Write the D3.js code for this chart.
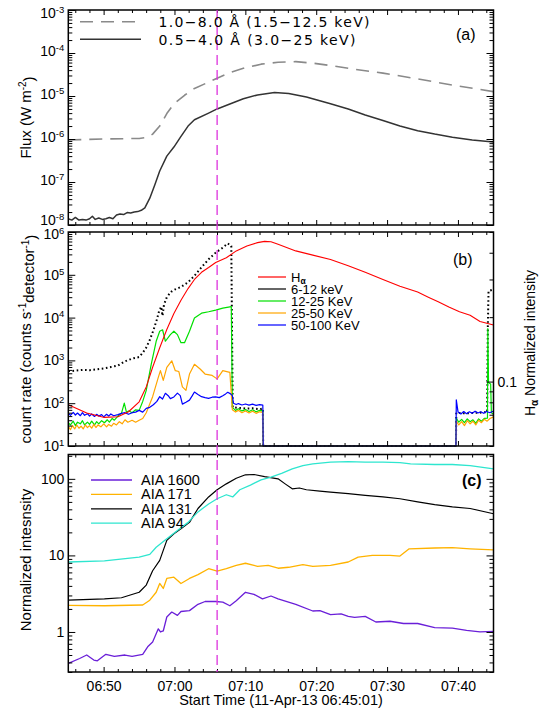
<!DOCTYPE html>
<html>
<head>
<meta charset="utf-8">
<script src="https://cdn.jsdelivr.net/npm/d3@7"></script>
<style>
body { margin: 0; background: #fff; }
text { font-family: "Liberation Sans", Arial, sans-serif; fill: #000; }
.tick line { stroke: #000; }
</style>
</head>
<body>
<div id="chart"></div>
<script>
let width = 546;
let height = 709;

// all series: [minutes after 06:45:01, value]
let goesLong = [[0,9.5e-7],[5.1,1.0e-6],[10,1.03e-6],[11.2,1.1e-6],[11.9,1.3e-6],[12.9,2.0e-6],[13.9,3.9e-6],[14.9,6.6e-6],[16.4,1.04e-5],[17.8,1.5e-5],[19.8,2.1e-5],[21,2.6e-5],[22.8,3.5e-5],[24.7,4.4e-5],[27.2,5.5e-5],[29.6,6.1e-5],[32.1,6.3e-5],[34.5,5.8e-5],[37,5.1e-5],[39.5,4.4e-5],[44.4,3.4e-5],[49.3,2.5e-5],[54.2,1.8e-5],[60,1.26e-5]];
let goesShort = [[0,1.4e-8],[0.5,1.3e-8],[1,1.5e-8],[1.5,1.3e-8],[2,1.35e-8],[2.5,1.3e-8],[3,1.4e-8],[3.4,1.6e-8],[3.8,1.35e-8],[4.3,1.45e-8],[4.8,1.35e-8],[5.3,1.4e-8],[5.8,1.5e-8],[6.3,1.4e-8],[6.8,1.7e-8],[7.3,1.8e-8],[7.8,1.75e-8],[8.3,1.95e-8],[8.8,1.9e-8],[9.3,2.0e-8],[9.8,2.05e-8],[10.3,2.2e-8],[10.8,2.5e-8],[11.5,4.2e-8],[12.2,8.5e-8],[12.9,1.8e-7],[13.9,4.0e-7],[14.9,6.5e-7],[15.9,1.15e-6],[16.9,2.0e-6],[17.8,2.8e-6],[19.8,4.0e-6],[21,5.0e-6],[22.8,6.5e-6],[24.7,8.6e-6],[26.7,1.06e-5],[29.1,1.2e-5],[31.1,1.15e-5],[33.6,9.5e-6],[37,6.6e-6],[39.5,5.0e-6],[41.9,3.6e-6],[44.4,2.7e-6],[46.8,2.0e-6],[49.3,1.56e-6],[51.7,1.3e-6],[54.2,1.1e-6],[57,9.5e-7],[60,8.5e-7]];

let hxr612 = [[0,560],[1,575],[2,600],[3,590],[4,620],[5,650],[6,700],[7,760],[8,950],[9,1100],[10,1200],[10.5,1500],[11,2000],[11.5,3000],[12,5000],[12.5,9000],[12.8,14000],[13.1,18000],[13.3,11000],[13.5,20000],[13.9,30000],[14.5,40000],[15,45000],[15.9,52000],[16.9,67000],[17.8,95000],[18.8,150000],[19.8,230000],[20.8,330000],[21.8,430000],[22.5,540000],[23,470000],[23.2,80],[24,78],[25,75],[26,76],[27,72],[27.45,75],[27.5,10],[54.7,10],[54.75,60],[56,58],[58,60],[59.1,62],[59.2,6000],[59.3,42000],[60,45000]];
let hxr1225 = [[0,35],[0.3,31],[0.7,38],[1,30],[1.3,36],[1.7,33],[2,39],[2.3,31],[2.7,36],[3,32],[3.3,38],[3.7,31],[4,37],[4.3,33],[4.7,39],[5.1,35],[5.5,41],[5.8,36],[6.2,44],[6.5,40],[7,50],[7.5,58],[7.9,100],[8.2,62],[8.6,66],[9,60],[9.5,70],[10,68],[10.5,110],[11,200],[11.7,810],[12.4,2800],[12.9,4800],[13.3,5200],[13.7,2800],[14.4,4000],[14.9,4800],[15.4,4000],[15.9,2600],[16.4,2600],[17.1,4800],[17.8,9800],[18.8,12700],[19.8,13700],[20.8,15000],[21.8,16600],[23,18000],[23.15,80],[23.6,68],[24,74],[24.5,66],[25,71],[25.5,64],[26,70],[26.5,63],[27,68],[27.45,66],[27.5,10],[54.7,10],[54.75,45],[55.1,36],[55.5,42],[55.9,35],[56.3,43],[56.7,37],[57.1,41],[57.5,34],[57.9,43],[58.3,38],[58.7,44],[59.15,45],[59.2,5500],[59.3,300],[59.6,280],[59.7,60],[60,55]];
let hxr2550 = [[0,29],[0.3,24],[0.6,30],[0.9,25],[1.2,31],[1.5,26],[1.8,29],[2.1,25],[2.4,31],[2.7,27],[3,30],[3.3,26],[3.6,32],[3.9,27],[4.2,31],[4.6,28],[5,33],[5.4,28],[5.7,32],[6.1,29],[6.4,34],[6.8,31],[7.2,37],[7.6,33],[8,41],[8.4,36],[9,40],[9.5,36],[10,40],[10.5,44],[11,60],[11.9,142],[12.7,400],[13,575],[13.4,340],[13.9,690],[14.6,980],[15.1,575],[15.6,550],[16.1,240],[16.6,200],[17.1,480],[17.8,810],[18.6,630],[19.3,480],[20.3,445],[21,370],[21.8,575],[22.8,525],[23.15,70],[23.6,62],[24,68],[24.5,60],[25,66],[25.5,59],[26,65],[26.5,58],[27,63],[27.45,61],[27.5,10],[54.7,10],[54.75,38],[55.1,31],[55.5,37],[55.9,30],[56.3,39],[56.7,33],[57.1,38],[57.5,31],[57.9,40],[58.3,35],[58.7,42],[59.1,38],[59.5,44],[60,48]];
let hxr50100 = [[0,58],[0.3,52],[0.7,61],[1,53],[1.3,59],[1.7,51],[2,60],[2.3,52],[2.7,57],[3,50],[3.3,56],[3.7,49],[4,55],[4.3,50],[4.7,54],[5,48],[5.4,55],[5.7,50],[6,56],[6.4,51],[7,54],[7.5,58],[8,60],[8.5,55],[9,60],[9.5,62],[10,68],[10.5,62],[11,76],[11.5,80],[12,92],[12.5,110],[12.9,142],[13.3,125],[13.7,170],[14.1,150],[14.4,128],[14.9,140],[15.4,172],[15.8,150],[16.1,95],[16.6,105],[17.1,118],[17.5,150],[17.8,182],[18.3,160],[18.8,142],[19.3,135],[19.8,130],[20.3,138],[20.8,140],[21.3,135],[21.8,150],[22.2,165],[22.5,180],[22.9,165],[23.15,150],[23.3,100],[23.7,93],[24,98],[24.5,91],[25,96],[25.5,90],[26,95],[26.5,89],[27,93],[27.45,90],[27.5,10],[54.7,10],[54.75,120],[55,62],[55.4,56],[55.8,64],[56.2,57],[56.6,63],[57,58],[57.4,65],[57.8,59],[58.2,63],[58.6,58],[59,64],[59.5,60],[60,66]];

// H-alpha, right-hand axis
let halpha = [[0,0.078],[2.6,0.0713],[5.1,0.068],[7,0.0685],[8.5,0.0723],[10,0.0804],[11,0.0944],[11.9,0.1167],[12.9,0.144],[13.9,0.175],[14.9,0.208],[15.9,0.24],[16.9,0.272],[17.8,0.3],[18.8,0.324],[19.8,0.341],[20.8,0.36],[22.3,0.379],[23.7,0.408],[25.2,0.43],[26.7,0.446],[27.7,0.452],[28.6,0.45],[29.6,0.438],[32.1,0.408],[34.5,0.39],[37,0.372],[39.5,0.348],[41.9,0.324],[44.4,0.3],[46.8,0.279],[49.3,0.262],[50.8,0.248],[52.2,0.236],[53.7,0.223],[55.2,0.212],[56.7,0.204],[58.1,0.191],[60,0.184]];

let aia1600 = [[0,0.39],[1.6,0.45],[2.6,0.5],[3.6,0.43],[4.1,0.42],[5.3,0.51],[6.5,0.48],[8,0.5],[9,0.48],[10.5,0.51],[11.2,0.64],[11.9,0.74],[12.7,1.1],[13,1.0],[13.4,1.03],[13.9,1.57],[14.6,1.82],[15.4,1.65],[15.9,1.85],[17.1,1.9],[18.3,2.3],[19.3,2.5],[20.8,2.5],[21.8,2.45],[22.8,2.2],[23.7,2.55],[25,3.3],[26.2,3.1],[27.4,2.7],[28.6,2.95],[29.6,2.7],[32.1,2.3],[34.5,1.88],[35.5,1.9],[37,1.68],[38.5,1.72],[39.5,1.6],[40.4,1.55],[41.9,1.6],[43.4,1.35],[45.4,1.38],[47.3,1.29],[49.3,1.29],[51.7,1.14],[54.2,1.12],[56.2,1.05],[58.1,1.0],[60,1.02]];
let aia171 = [[0,2.23],[5.1,2.2],[10.5,2.25],[11.5,2.6],[12.4,3.3],[12.9,4.3],[13.4,3.7],[13.9,5.0],[14.9,5.2],[15.9,4.3],[17.1,5.0],[18.3,5.6],[19.8,6.7],[21,6.25],[22.3,6.7],[23.7,7.4],[25,7.9],[26.7,7.2],[28.2,7.4],[29.6,6.8],[31.1,7.0],[33.1,7.6],[34.5,7.2],[37,7.4],[39.5,8.2],[40.9,9.5],[42.9,10.0],[45.4,10.0],[46.8,9.8],[48.1,12.2],[51.7,12.5],[54.2,12.6],[56.7,12.2],[60,11.8]];
let aia131 = [[0,2.6],[5.1,2.7],[7.5,2.8],[10,3.3],[11,4.1],[11.9,6.3],[12.9,8.6],[13.9,15.7],[14.9,19.2],[15.9,22.3],[17.1,27],[18.3,41],[19.8,58],[21,72],[22.3,86],[23.7,102],[25,113],[26.2,114],[27.7,107],[29.6,100],[30.6,86],[31.6,74],[32.6,76],[33.6,72],[35.5,69],[37,67],[39.5,64],[41.9,61],[44.4,58],[46.8,55],[49.3,50],[51.7,46],[54.2,43],[56.7,41],[60,35]];
let aia94 = [[0,8.2],[5.1,8.5],[10,9.5],[11.5,10.3],[12.4,12.8],[13.9,16.5],[15.4,21.2],[16.9,27],[18.3,37],[19.8,47],[21,55],[22.3,62],[23.2,58],[24.2,72],[25.7,83],[27.2,97],[28.6,105],[30.1,118],[31.6,135],[33.1,149],[34.5,157],[37,165],[39.5,168],[41.9,165],[44.4,165],[46.8,163],[48.3,157],[51.7,154],[54.2,154],[56.7,149],[60,135]];

let goesLabels = ["1.0\u22128.0 \u00c5 (1.5\u221212.5 keV)", "0.5\u22124.0 \u00c5 (3.0\u221225 keV)"];
let hxrLabels = ["6-12 keV", "12-25 KeV", "25-50 KeV", "50-100 KeV"];
let aiaLabels = ["AIA 1600", "AIA 171", "AIA 131", "AIA 94"];
let markerMinute = 21.0;

let svg = d3.select("#chart").append("svg")
    .attr("width", width)
    .attr("height", height);

let left = 68.3, right = 493.5;
let startTime = Date.UTC(2013, 3, 11, 6, 45, 1);
let toDate = m => new Date(startTime + m * 60000);

let x = d3.scaleUtc().domain([toDate(0), toDate(60)]).range([left, right]);
let yA = d3.scaleLog().domain([1e-8, 1e-3]).range([225, 10]);
let yB = d3.scaleLog().domain([10, 1e6]).range([446, 232]);
let yHa = d3.scaleLog().domain([0.05, 0.5]).range([446, 232]);
let yC = d3.scaleLog().domain([0.3, 208]).range([672, 454.5]);

let isPow10 = v => Math.abs(Math.log10(v) - Math.round(Math.log10(v))) < 1e-9;
let noDomain = g => g.select(".domain").remove();

function timeTicks(y, labels) {
    let [bottom, top] = y.range();
    let major = x.ticks(d3.utcMinute.every(10));
    let minor = x.ticks(d3.utcMinute.every(2)).filter(d => d.getUTCMinutes() % 10 !== 0);
    svg.append("g").attr("transform", `translate(0,${bottom})`)
        .call(d3.axisBottom(x).tickValues(minor).tickSize(-3).tickFormat("")).call(noDomain);
    svg.append("g").attr("transform", `translate(0,${bottom})`)
        .call(d3.axisBottom(x).tickValues(major).tickSize(-5).tickPadding(9)
            .tickFormat(labels ? d3.utcFormat("%H:%M") : ""))
        .call(noDomain)
        .selectAll("text").attr("font-size", "14px");
    svg.append("g").attr("transform", `translate(0,${top})`)
        .call(d3.axisTop(x).tickValues(minor).tickSize(-3).tickFormat("")).call(noDomain);
    svg.append("g").attr("transform", `translate(0,${top})`)
        .call(d3.axisTop(x).tickValues(major).tickSize(-5).tickFormat("")).call(noDomain);
}

// nudge: pixel shift of the labels at the top and bottom of a panel
function logTicks(y, fmt, mirror, nudge) {
    let all = y.ticks();
    let major = all.filter(isPow10);
    let minor = all.filter(d => !isPow10(d));
    let [lo, hi] = y.domain();
    svg.append("g").attr("transform", `translate(${left},0)`)
        .call(d3.axisLeft(y).tickValues(minor).tickSize(-4).tickFormat("")).call(noDomain);
    let g = svg.append("g").attr("transform", `translate(${left},0)`)
        .call(d3.axisLeft(y).tickValues(major).tickSize(-7).tickPadding(4).tickFormat(fmt.base))
        .call(noDomain);
    g.selectAll("text")
        .attr("font-size", "14px")
        .attr("y", d => d === hi ? nudge[0] : d === lo ? nudge[2] : nudge[1]);
    if (fmt.sup) {
        g.selectAll("text").append("tspan")
            .attr("dy", "-0.55em")
            .attr("font-size", "9.5px")
            .text(d => Math.round(Math.log10(d)));
    }
    if (mirror) {
        svg.append("g").attr("transform", `translate(${right},0)`)
            .call(d3.axisRight(y).tickValues(minor).tickSize(-4).tickFormat("")).call(noDomain);
        svg.append("g").attr("transform", `translate(${right},0)`)
            .call(d3.axisRight(y).tickValues(major).tickSize(-7).tickFormat("")).call(noDomain);
    }
}

function clipFor(id, y) {
    let [bottom, top] = y.range();
    svg.append("clipPath").attr("id", id).append("rect")
        .attr("x", left).attr("y", top - 1)
        .attr("width", right - left).attr("height", bottom - top + 2);
}

function drawSeries(data, y, clip, color, widthPx, dash) {
    let line = d3.line()
        .x(d => x(toDate(d[0])))
        .y(d => y(d[1]));
    svg.append("path")
        .datum(data)
        .attr("clip-path", `url(#${clip})`)
        .attr("d", line)
        .attr("fill", "none")
        .attr("stroke", color)
        .attr("stroke-width", widthPx)
        .attr("stroke-dasharray", dash || null)
        .attr("stroke-linejoin", "round");
}

clipFor("clipA", yA);
clipFor("clipB", yB);
clipFor("clipC", yC);

// panel (a)
drawSeries(goesLong, yA, "clipA", "#8a8a8a", 1.6, "13,8");
drawSeries(goesShort, yA, "clipA", "#333", 1.5);

// panel (b)
drawSeries(hxr612, yB, "clipB", "#000", 2, "1.6,2.6");
drawSeries(hxr1225, yB, "clipB", "#00e000", 1.2);
drawSeries(hxr2550, yB, "clipB", "#ffa500", 1.2);
drawSeries(hxr50100, yB, "clipB", "#0000ff", 1.2);
drawSeries(halpha, yHa, "clipB", "#ff0000", 1.1);

// panel (c)
drawSeries(aia1600, yC, "clipC", "#6a1fd8", 1.3);
drawSeries(aia171, yC, "clipC", "#ffb300", 1.3);
drawSeries(aia131, yC, "clipC", "#000", 1.2);
drawSeries(aia94, yC, "clipC", "#2ee6cf", 1.3);

// frames and ticks
[yA, yB, yC].forEach((y, i) => {
    let [bottom, top] = y.range();
    svg.append("rect")
        .attr("x", left).attr("y", top)
        .attr("width", right - left).attr("height", bottom - top)
        .attr("fill", "none").attr("stroke", "#000").attr("stroke-width", 1.5);
    timeTicks(y, i === 2);
});

logTicks(yA, {base: () => "10", sup: true}, true, [3, -2, -5]);
logTicks(yB, {base: () => "10", sup: true}, false, [2.5, 0, 0]);
logTicks(yC, {base: d => d3.format("d")(d), sup: false}, true, [0, 0, 0]);

// H-alpha axis on the right of panel (b)
let haAll = yHa.ticks();
svg.append("g").attr("transform", `translate(${right},0)`)
    .call(d3.axisRight(yHa).tickValues(haAll.filter(d => !isPow10(d))).tickSize(-4).tickFormat(""))
    .call(noDomain);
svg.append("g").attr("transform", `translate(${right},0)`)
    .call(d3.axisRight(yHa).tickValues(haAll.filter(isPow10)).tickSize(-7).tickPadding(4).tickFormat(d3.format(".1f")))
    .call(noDomain)
    .selectAll("text").attr("font-size", "14px");

// flare marker
svg.append("line")
    .attr("x1", x(toDate(markerMinute))).attr("x2", x(toDate(markerMinute)))
    .attr("y1", yA.range()[1]).attr("y2", yC.range()[0])
    .attr("stroke", "#dd33dd").attr("stroke-width", 1.3)
    .attr("stroke-dasharray", "10,5");

// legends
let legA = [{dash: "13,8", color: "#8a8a8a"}, {dash: null, color: "#333"}];
legA.forEach((d, i) => {
    let y = 21.7 + i * 17.6;
    svg.append("line").attr("x1", 80).attr("x2", 141).attr("y1", y).attr("y2", y)
        .attr("stroke", d.color).attr("stroke-width", 1.6).attr("stroke-dasharray", d.dash);
    svg.append("text").attr("x", 158.5).attr("y", y + 5.5)
        .attr("fill", "#222")
        .attr("textLength", i === 0 ? 211 : 197).attr("lengthAdjust", "spacing")
        .style("font-family", "'DejaVu Sans', sans-serif")
        .style("font-size", "14px")
        .text(goesLabels[i]);
});

let legB = [{color: "#ff0000"}, {color: "#000"}, {color: "#00e000"}, {color: "#ffa500"}, {color: "#0000ff"}];
legB.forEach((d, i) => {
    let y = 277 + i * 12;
    svg.append("line").attr("x1", 258).attr("x2", 286).attr("y1", y).attr("y2", y)
        .attr("stroke", d.color).attr("stroke-width", 1.2);
    let t = svg.append("text").attr("x", 291).attr("y", y + 4.5).attr("font-size", "13px");
    if (i === 0) {
        t.text("H");
        t.append("tspan").attr("dy", "2").attr("font-size", "8.5px").attr("font-weight", "bold").text("\u03b1");
    } else {
        t.text(hxrLabels[i - 1]);
    }
});

let legC = ["#6a1fd8", "#ffb300", "#000", "#2ee6cf"];
legC.forEach((c, i) => {
    let y = 480 + i * 14.4;
    svg.append("line").attr("x1", 91).attr("x2", 132).attr("y1", y).attr("y2", y)
        .attr("stroke", c).attr("stroke-width", 1.3);
    svg.append("text").attr("x", 141).attr("y", y + 5).attr("font-size", "14.5px").text(aiaLabels[i]);
});

// panel letters
svg.append("text").attr("x", 456).attr("y", 40).attr("font-size", "16px").text("(a)");
svg.append("text").attr("x", 453).attr("y", 265).attr("font-size", "16px").text("(b)");
svg.append("text").attr("x", 462).attr("y", 486).attr("font-size", "16px").attr("font-weight", "bold").text("(c)");

// axis titles
let fluxTitle = svg.append("text")
    .attr("transform", "translate(31,117.5) rotate(-90)")
    .attr("text-anchor", "middle").attr("font-size", "15px")
    .text("Flux (W m");
fluxTitle.append("tspan").attr("dy", "-0.5em").attr("font-size", "10px").text("-2");
fluxTitle.append("tspan").attr("dy", "0.5em").text(")");

let countTitle = svg.append("text")
    .attr("transform", "translate(31,339) rotate(-90)")
    .attr("text-anchor", "middle").attr("font-size", "15px")
    .text("count rate (counts s");
countTitle.append("tspan").attr("dy", "-0.5em").attr("font-size", "10px").text("-1");
countTitle.append("tspan").attr("dy", "0.5em").text("detector");
countTitle.append("tspan").attr("dy", "-0.5em").attr("font-size", "10px").text("-1");
countTitle.append("tspan").attr("dy", "0.5em").text(")");

svg.append("text")
    .attr("transform", "translate(31,560) rotate(-90)")
    .attr("text-anchor", "middle").attr("font-size", "15px")
    .text("Normalized intesnsity");

let haTitle = svg.append("text")
    .attr("transform", "translate(535,343) rotate(-90)")
    .attr("text-anchor", "middle").attr("font-size", "14px")
    .text("H");
haTitle.append("tspan").attr("dy", "3").attr("font-size", "10px").attr("font-weight", "bold").text("\u03b1");
haTitle.append("tspan").attr("dy", "-3").text(" Normalized  intensity");

svg.append("text")
    .attr("x", 281).attr("y", 705)
    .attr("text-anchor", "middle").attr("font-size", "14.5px")
    .text("Start Time (11-Apr-13 06:45:01)");
</script>
</body>
</html>
